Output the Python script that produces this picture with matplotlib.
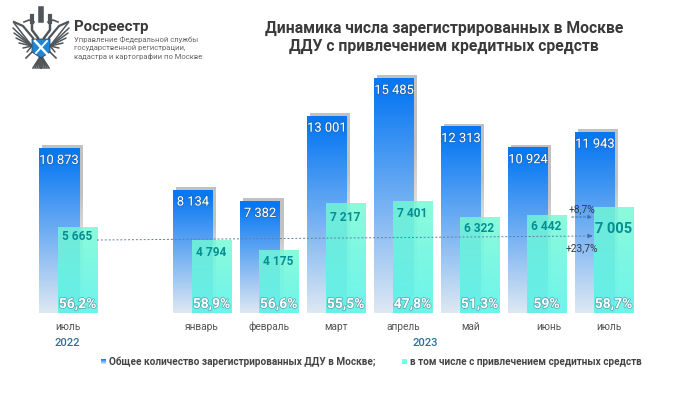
import numpy as np
import matplotlib
matplotlib.use('Agg')
import matplotlib.pyplot as plt
import matplotlib.patheffects as pe
from matplotlib.patches import Polygon

W, H = 699, 393

months = ['июль', 'январь', 'февраль', 'март', 'апрель', 'май', 'июнь', 'июль']
slots = [0, 2, 3, 4, 5, 6, 7, 8]
total = [10873, 8134, 7382, 13001, 15485, 12313, 10924, 11943]
credit = [5665, 4794, 4175, 7217, 7401, 6322, 6442, 7005]
total_labels = ['10 873', '8 134', '7 382', '13 001', '15 485', '12 313', '10 924', '11 943']
credit_labels = ['5 665', '4 794', '4 175', '7 217', '7 401', '6 322', '6 442', '7 005']
shares = ['56,2%', '58,9%', '56,6%', '55,5%', '47,8%', '51,3%', '59%', '58,7%']

FONT = 'Roboto'
plt.rcParams['font.family'] = FONT

slot_px = 67.0
left_px = 39.0
base_px = 313.0
units_per_px = 1 / 0.01518
bar_w = 40 / slot_px
off = 18.5 / slot_px
# сдвиги подписей, в пикселях
credit_dy = [9, 12, 12, 14, 13, 11, 11, 22]
month_dx = [29, 29, 29, 29, 29, 30, 41, 34]


# пиксели картинки -> координаты данных
def px(x, y):
    return (x - left_px) / slot_px, (base_px - y) * units_per_px


fig = plt.figure(figsize=(W / 100, H / 100), dpi=100, facecolor='white')
ax = fig.add_axes([0, 0, 1, 1])
ax.axis('off')
xlim = (px(0, 0)[0], px(W, 0)[0])
ylim = (px(0, H)[1], px(0, 0)[1])


def gradient(top, bottom, mid=0.0, n=200):
    t = np.clip((np.linspace(0, 1, n) - mid) / (1 - mid), 0, 1)[:, None]
    return np.array(top)[None, :] * (1 - t) + np.array(bottom)[None, :] * t


blue_grad = gradient((0.03, 0.47, 0.95, 1), (0.87, 0.91, 0.95, 1), 0.05)
teal_grad = gradient((0.45, 0.98, 0.83, 0.82), (0.30, 0.95, 0.91, 0.82))
shadow_grad = gradient((0.6, 0.6, 0.6, 0.6), (0.8, 0.8, 0.8, 0.0), 0.3)

for i, (s, t, c, tl, cl, sh) in enumerate(zip(slots, total, credit, total_labels, credit_labels, shares)):
    # тень у синего столбика
    sx = s + 3 / slot_px
    top = t + 2.5 * units_per_px
    sb = ax.bar(sx, top, bar_w, align='edge', color='none', zorder=1)[0]
    im = ax.imshow(shadow_grad[:, None, :], extent=(sx, sx + bar_w, 0, top), aspect='auto', zorder=1)
    im.set_clip_path(sb)

    b = ax.bar(s, t, bar_w, align='edge', color='none', zorder=2)[0]
    im = ax.imshow(blue_grad[:, None, :], extent=(s, s + bar_w, 0, t), aspect='auto', zorder=2)
    im.set_clip_path(b)

    g = ax.bar(s + off, c, bar_w, align='edge', color='none', zorder=3)[0]
    im = ax.imshow(teal_grad[:, None, :], extent=(s + off, s + off + bar_w, 0, c), aspect='auto', zorder=3)
    im.set_clip_path(g)

    shadow = [pe.withStroke(linewidth=1.0, foreground='#33506a', alpha=0.5)]
    ax.text(s + bar_w / 2, t - 12.5 * units_per_px, tl, color='white', fontsize=9.3,
            ha='center', va='center', path_effects=shadow, zorder=5)
    big = s == 8
    ax.text(s + off + bar_w / 2, c - credit_dy[i] * units_per_px, cl, color='#058f93',
            fontsize=10.5 if big else 8.6, weight='bold', ha='center', va='center', zorder=5)
    ax.text(s + off + bar_w / 2, 9 * units_per_px, sh, color='white', fontsize=10, weight='bold',
            ha='center', va='center', path_effects=shadow, zorder=5)

for s, m, dx in zip(slots, months, month_dx):
    ax.text(*px(left_px + slot_px * s + dx, 327), m, color='#555555', fontsize=7.3, ha='center', va='center')

for x, txt in [(67, '2022'), (425, '2023')]:
    ax.text(*px(x, 343), txt, color='#2a6f9f', fontsize=8, weight='medium', ha='center', va='center')

# пунктирные стрелки
ax.plot(*zip(px(97, 240), px(590, 236)), color='#5a7fa8', lw=0.7, ls=(0, (2, 2)), zorder=4)
ax.annotate('', xy=px(595, 236), xytext=px(588, 236), zorder=4,
            arrowprops=dict(arrowstyle='-|>', color='#3f6fa8', lw=0.7, mutation_scale=6))
ax.annotate('', xy=px(595, 217), xytext=px(569, 217), zorder=4,
            arrowprops=dict(arrowstyle='-|>', color='#3f6fa8', lw=0.7, ls=(0, (2, 2)), mutation_scale=6))
ax.text(*px(582, 209), '+8,7%', color='#2f3b4a', fontsize=7.4, ha='center', va='center', zorder=6)
ax.text(*px(582, 248), '+23,7%', color='#2f3b4a', fontsize=7.4, ha='center', va='center', zorder=6)

# заголовок
ax.text(*px(444, 28), 'Динамика числа зарегистрированных в Москве', color='#3a3a3a', fontsize=11.35,
        weight='bold', ha='center', va='center')
ax.text(*px(444, 46), 'ДДУ с привлечением кредитных средств', color='#3a3a3a', fontsize=11.35,
        weight='bold', ha='center', va='center')

# шапка Росреестра
ax.text(*px(74, 27), 'Росреестр', color='#3a3a3a', fontsize=10.8, weight='bold', ha='left', va='center')
for y, line in [(40, 'Управление Федеральной службы'), (48, 'государственной регистрации,'),
                (56, 'кадастра и картографии по Москве')]:
    ax.text(*px(74, y), line, color='#666666', fontsize=5.5, ha='left', va='center')

# герб, упрощённо
cx = 41
dark = '#50555a'
for side in (-1, 1):
    # перья крыла
    for dx, y in [(27, 23), (28, 28), (27, 33), (25, 38), (22, 43), (18, 48), (14, 52)]:
        ax.plot(*zip(px(cx + side * 9, 46), px(cx + side * dx, y)), color=dark, lw=1.1,
                solid_capstyle='round', zorder=2)
    ax.plot(*zip(px(cx + side * 8, 38), px(cx + side * 18, 26), px(cx + side * 27, 22)), color=dark, lw=1.6, zorder=2)
    # шеи и головы
    ax.plot(*zip(px(cx + side * 3, 38), px(cx + side * 9, 30), px(cx + side * 9, 24)), color=dark, lw=1.8, zorder=2)
    ax.plot(*zip(px(cx + side * 7, 22), px(cx + side * 12, 20), px(cx + side * 17, 22)), color=dark, lw=1.2, zorder=2)
    ax.plot(*zip(px(cx + side * 9, 16), px(cx + side * 9, 22)), color=dark, lw=3, zorder=2)
    # лапы
    ax.plot(*zip(px(cx + side * 9, 52), px(cx + side * 15, 58)), color=dark, lw=1.2, zorder=2)
    for dx in (2, 4, 6, 8):
        ax.plot(*zip(px(cx + side * 1, 57), px(cx + side * dx, 68)), color=dark, lw=1.2, zorder=2)
ax.plot(*zip(px(cx, 9), px(cx, 20)), color=dark, lw=4, zorder=2)
ax.plot(*zip(px(cx, 57), px(cx, 68)), color=dark, lw=1.4, zorder=2)
ax.add_patch(Polygon([px(32, 39), px(50, 39), px(50, 52), px(41, 58), px(32, 52)], closed=True,
                     facecolor='#1f86d6', edgecolor='#3a4046', lw=0.6, zorder=3))
ax.plot(*zip(px(35, 41), px(47, 54)), color='white', lw=1.8, zorder=4)
ax.plot(*zip(px(47, 41), px(36, 53)), color='white', lw=1.3, zorder=4)

# легенда
sq = dict(ha='left', va='center', color='#444444', fontsize=7.2, weight='bold')
y_leg = 362
ax.imshow(blue_grad[:, None, :], extent=(px(101, 0)[0], px(106, 0)[0], px(0, y_leg + 2)[1], px(0, y_leg - 3)[1]),
          aspect='auto', zorder=3)
ax.text(*px(109, y_leg), 'Общее количество зарегистрированных ДДУ в Москве;', **sq)
ax.imshow(teal_grad[:, None, :], extent=(px(402, 0)[0], px(407, 0)[0], px(0, y_leg + 2)[1], px(0, y_leg - 3)[1]),
          aspect='auto', zorder=3)
ax.text(*px(410, y_leg), 'в том числе с привлечением средитных средств', **sq)

ax.set_xlim(xlim)
ax.set_ylim(ylim)
fig.savefig('out.png', dpi=100)
